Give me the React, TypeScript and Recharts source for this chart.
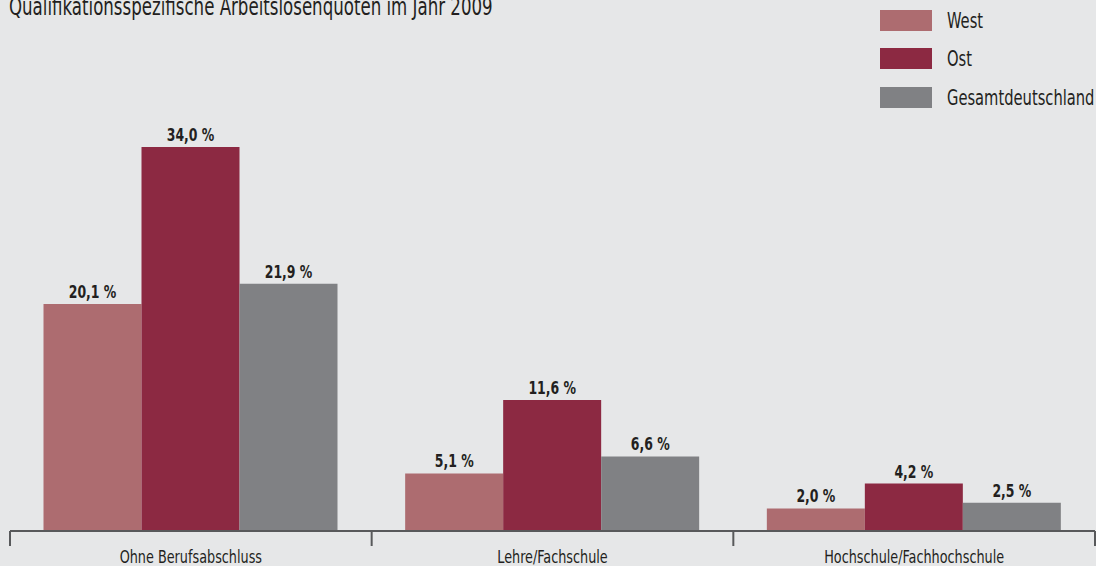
import React from 'react';
import { BarChart, Bar, XAxis, YAxis, Legend, LabelList } from 'recharts';

const categories = ['Ohne Berufsabschluss', 'Lehre/Fachschule', 'Hochschule/Fachhochschule'];
const west = [20.1, 5.1, 2.0];
const ost = [34.0, 11.6, 4.2];
const gesamt = [21.9, 6.6, 2.5];
const seriesNames = ['West', 'Ost', 'Gesamtdeutschland'];
const title = 'Qualifikationsspezifische Arbeitslosenquoten im Jahr 2009';

const data = categories.map((c, i) => ({ name: c, west: west[i], ost: ost[i], gesamt: gesamt[i] }));

const FONT = '"DejaVu Sans Condensed", "DejaVu Sans", sans-serif';
const SX = 0.77;
const TEXT = '#231f20';
const BG = '#e6e7e8';
const AXIS = '#58595b';
const COLORS = ['#ad6c70', '#8c2942', '#808184'];

const fmt = (v: any) => Number(v).toFixed(1).replace('.', ',') + ' %';

const CatTick = (props: any) => {
  const { x, y, payload, index, visibleTicksCount } = props;
  const half = payload && payload.offset ? payload.offset : 180.8;
  const last = index === (visibleTicksCount || 3) - 1;
  return (
    <g>
      <line x1={x - half} x2={x - half} y1={y} y2={y + 15} stroke={AXIS} strokeWidth={2} />
      {last && <line x1={x + half} x2={x + half} y1={y} y2={y + 15} stroke={AXIS} strokeWidth={2} />}
      <text
        transform={`translate(${x} ${y + 32}) scale(${SX} 1)`}
        x={0}
        y={0}
        textAnchor="middle"
        fill={TEXT}
        fontSize={18.5}
        fontFamily={FONT}
      >
        {payload.value}
      </text>
    </g>
  );
};

const BarLabel = (props: any) => {
  const { x, y, width, value } = props;
  return (
    <text
      transform={`translate(${Number(x) + Number(width) / 2} ${Number(y) - 6}) scale(${SX} 1)`}
      x={0}
      y={0}
      textAnchor="middle"
      fill={TEXT}
      fontSize={18}
      fontWeight="bold"
      fontFamily={FONT}
    >
      {fmt(value)}
    </text>
  );
};

const LegendContent = (props: any) => {
  const payload = [...(props.payload || [])].sort(
    (a: any, b: any) => seriesNames.indexOf(a.value) - seriesNames.indexOf(b.value)
  );
  return (
    <div style={{ fontFamily: FONT }}>
      {payload.map((p: any, i: number) => (
        <div key={i} style={{ display: 'flex', alignItems: 'center', height: 38.5 }}>
          <div style={{ width: 52, height: 21, background: p.color, marginRight: 15, flex: 'none' }} />
          <span
            style={{
              display: 'inline-block',
              fontSize: 21.5,
              color: TEXT,
              lineHeight: '21px',
              whiteSpace: 'nowrap',
              transform: `scaleX(0.76)`,
              transformOrigin: 'left center',
            }}
          >
            {p.value}
          </span>
        </div>
      ))}
    </div>
  );
};

export default function App() {
  return (
    <div style={{ position: 'absolute', left: 0, top: 0, width: 1096, height: 566, background: BG, overflow: 'hidden' }}>
      <div
        style={{
          position: 'absolute',
          left: 9,
          top: -5,
          fontSize: 24,
          lineHeight: '24px',
          color: TEXT,
          fontFamily: FONT,
          whiteSpace: 'nowrap',
          transform: `scaleX(${SX})`,
          transformOrigin: 'left top',
        }}
      >
        {title}
      </div>
      <BarChart
        width={1096}
        height={566}
        data={data}
        margin={{ top: 147, right: 1, bottom: 5, left: 10 }}
        barCategoryGap={33.5}
        barGap={0}
      >
        <XAxis
          dataKey="name"
          height={30}
          axisLine={{ stroke: AXIS, strokeWidth: 2 }}
          tickLine={false}
          tickSize={0}
          tickMargin={0}
          tick={<CatTick />}
          interval={0}
        />
        <YAxis hide domain={[0, 34]} />
        <Legend
          layout="vertical"
          align="center"
          verticalAlign="middle"
          content={<LegendContent />}
          wrapperStyle={{ top: 1, left: 880, width: 216 }}
        />
        <Bar dataKey="west" name={seriesNames[0]} fill={COLORS[0]} isAnimationActive={false}>
          <LabelList dataKey="west" content={<BarLabel />} />
        </Bar>
        <Bar dataKey="ost" name={seriesNames[1]} fill={COLORS[1]} isAnimationActive={false}>
          <LabelList dataKey="ost" content={<BarLabel />} />
        </Bar>
        <Bar dataKey="gesamt" name={seriesNames[2]} fill={COLORS[2]} isAnimationActive={false}>
          <LabelList dataKey="gesamt" content={<BarLabel />} />
        </Bar>
      </BarChart>
    </div>
  );
}
